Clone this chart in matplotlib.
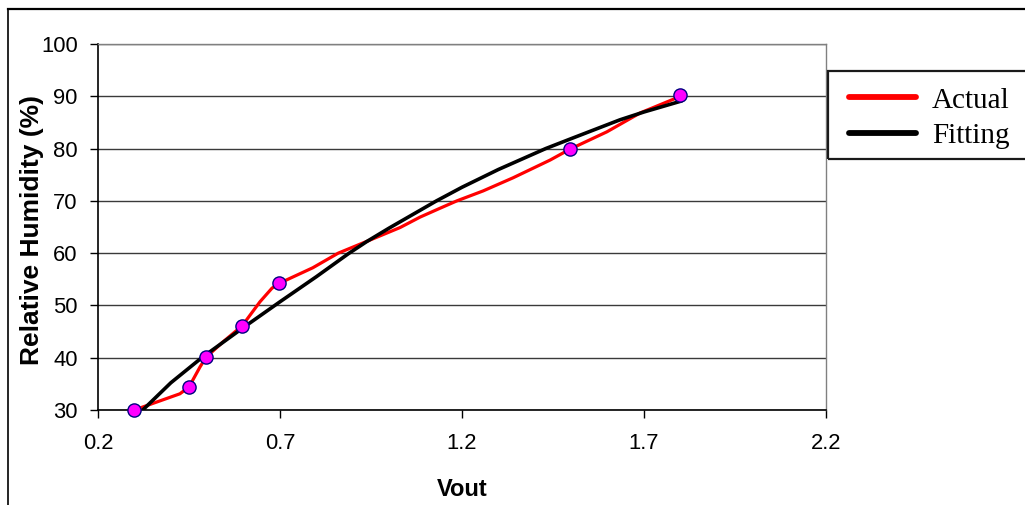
import matplotlib
matplotlib.use("Agg")
import matplotlib.pyplot as plt
from matplotlib.lines import Line2D
from matplotlib.patches import Rectangle
from matplotlib.ticker import FixedLocator, FormatStrFormatter

# ---- data ----
actual_x = [0.300, 0.324, 0.425, 0.450, 0.480, 0.497, 0.543, 0.596, 0.645, 0.678,
            0.697, 0.790, 0.860, 0.947, 1.030, 1.085, 1.140, 1.186, 1.258, 1.340,
            1.442, 1.497, 1.598, 1.689, 1.790, 1.800]
actual_y = [30.0, 30.6, 33.1, 34.4, 38.2, 40.1, 43.0, 46.1, 50.7, 53.3,
            54.2, 57.2, 60.0, 62.5, 64.9, 66.9, 68.6, 70.0, 71.9, 74.4,
            77.8, 79.9, 83.2, 86.8, 89.7, 90.2]

fit_x = [0.320, 0.400, 0.485, 0.600, 0.700, 0.800, 0.888, 0.938, 1.000, 1.130,
         1.200, 1.300, 1.430, 1.500, 1.634, 1.700, 1.803]
fit_y = [29.8, 35.2, 40.0, 45.8, 50.7, 55.5, 59.9, 62.2, 64.8, 70.0,
         72.6, 76.0, 80.0, 81.9, 85.5, 87.0, 89.1]

meas_x = [0.300, 0.450, 0.497, 0.596, 0.697, 1.497, 1.800]
meas_y = [30.0, 34.4, 40.1, 46.1, 54.2, 79.9, 90.2]

x_ticks = [0.2, 0.7, 1.2, 1.7, 2.2]
y_ticks = [30, 40, 50, 60, 70, 80, 90, 100]
series_labels = ["Actual", "Fitting"]

W, H = 1025, 505
fig = plt.figure(figsize=(W / 100, H / 100), dpi=100)
ax = fig.add_axes([98 / W, (H - 410) / H, 728 / W, 366 / H])

# gridlines
ax.set_axisbelow(True)
ax.yaxis.grid(True, color="#3a3a3a", linewidth=1.0)
ax.xaxis.grid(False)

l_act, = ax.plot(actual_x, actual_y, color="#ff0000", linewidth=2.3, zorder=3,
                 solid_capstyle="round", solid_joinstyle="round")
l_fit, = ax.plot(fit_x, fit_y, color="black", linewidth=2.6, zorder=4,
                 solid_capstyle="round", solid_joinstyle="round")
ax.plot(meas_x, meas_y, linestyle="none", marker="o", markersize=9.5,
        markerfacecolor="#ff00ff", markeredgecolor="#000080", markeredgewidth=1.0,
        zorder=5, clip_on=False)

ax.set_xlim(0.2, 2.2)
ax.set_ylim(30, 100)
ax.xaxis.set_major_locator(FixedLocator(x_ticks))
ax.yaxis.set_major_locator(FixedLocator(y_ticks))
ax.xaxis.set_major_formatter(FormatStrFormatter("%.1f"))

for s in ["left", "bottom"]:
    ax.spines[s].set_color("black")
    ax.spines[s].set_linewidth(1.2)
for s in ["top", "right"]:
    ax.spines[s].set_color("#808080")
    ax.spines[s].set_linewidth(1.0)

ax.tick_params(axis="both", direction="out", length=5.5, width=1.0, color="black")
ax.tick_params(axis="y", pad=9)
ax.tick_params(axis="x", pad=11)

for t in ax.get_yticklabels() + ax.get_xticklabels():
    t.set_fontfamily(["Liberation Sans", "DejaVu Sans"])
    t.set_fontsize(15.8)

ax.set_xlabel("Vout", fontsize=17, fontweight="bold",
              family=["Liberation Sans", "DejaVu Sans"])
ax.xaxis.set_label_coords(0.5, (410 - 478) / 366)
ax.set_ylabel("Relative Humidity (%)", fontsize=19, fontweight="bold",
              family=["Liberation Sans", "DejaVu Sans"], va="center")
ax.yaxis.set_label_coords((32 - 98) / 728, (410 - 230) / 366)

# legend
leg = fig.legend([l_act, l_fit], series_labels, loc="center left",
                 bbox_to_anchor=(849 / W, (H - 118) / H), frameon=False,
                 prop={"family": ["Liberation Serif", "DejaVu Serif"], "size": 21},
                 handlelength=2.3, handletextpad=0.55, labelspacing=0.3,
                 borderpad=0, borderaxespad=0)
for h in leg.get_lines():
    h.set_linewidth(4.2)
fig.add_artist(Rectangle((828 / W, (H - 159) / H), 0.3, (159 - 71) / H,
                         transform=fig.transFigure, fill=False,
                         edgecolor="#1a1a1a", linewidth=1.6, clip_on=False))

# outer chart border
fig.add_artist(Line2D([8 / W, 1.0], [(H - 9) / H, (H - 9) / H],
                      transform=fig.transFigure, color="black", linewidth=1.6))
fig.add_artist(Line2D([8 / W, 8 / W], [0, (H - 9) / H],
                      transform=fig.transFigure, color="black", linewidth=1.2))

fig.savefig("out.png", dpi=100)
